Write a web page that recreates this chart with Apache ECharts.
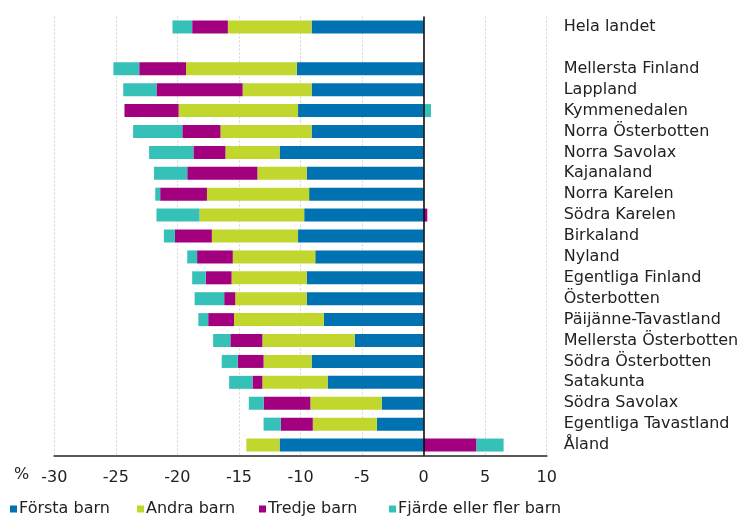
<!DOCTYPE html>
<html>
<head>
<meta charset="utf-8">
<script src="https://cdn.jsdelivr.net/npm/echarts@6/dist/echarts.min.js"></script>
<style>html,body{margin:0;padding:0;background:#fff}#c{width:751px;height:520px}</style>
</head>
<body>
<div id="c"></div>
<script>
var categories = ['Hela landet','', 'Mellersta Finland','Lappland','Kymmenedalen','Norra Österbotten','Norra Savolax','Kajanaland','Norra Karelen','Södra Karelen','Birkaland','Nyland','Egentliga Finland','Österbotten','Päijänne-Tavastland','Mellersta Österbotten','Södra Österbotten','Satakunta','Södra Savolax','Egentliga Tavastland','Åland'];
var forstaBarn = [-9.1, null, -10.3, -9.1, -10.2, -9.1, -11.7, -9.5, -9.3, -9.7, -10.2, -8.8, -9.5, -9.5, -8.1, -5.6, -9.1, -7.8, -3.4, -3.8, -11.7];
var andraBarn  = [-6.8, null, -9.0, -5.6, -9.7, -7.4, -4.4, -4.0, -8.3, -8.5, -7.0, -6.7, -6.1, -5.8, -7.3, -7.5, -3.9, -5.3, -5.8, -5.2, -2.7];
var tredjeBarn = [-2.9, null, -3.8, -7.0, -4.4, -3.1, -2.6, -5.7, -3.8, 0.3, -3.0, -2.9, -2.1, -0.9, -2.1, -2.6, -2.1, -0.8, -3.8, -2.6, 4.3];
var fjardeBarn = [-1.6, null, -2.1, -2.7, 0.6, -4.0, -3.6, -2.7, -0.4, -3.5, -0.9, -0.8, -1.1, -2.4, -0.8, -1.4, -1.3, -1.9, -1.2, -1.4, 2.2];
var seriesNames = ['Första barn','Andra barn','Tredje barn','Fjärde eller fler barn'];
var colors = ['#0072b1','#c1d72e','#a3007f','#36c1b8'];
var xTicks = {min: -30, max: 10, interval: 5};

var FONT = 'DejaVu Sans';
var chart = echarts.init(document.getElementById('c'), null, {renderer: 'canvas'});
var dataSets = [forstaBarn, andraBarn, tredjeBarn, fjardeBarn];
var legendLeft = [10, 137, 259, 389];

var series = dataSets.map(function (d, i) {
  var s = {
    name: seriesNames[i],
    type: 'bar',
    stack: 'total',
    barWidth: 13,
    data: d,
    itemStyle: {color: colors[i]},
    animation: false
  };
  if (i === 0) {
    s.markLine = {
      silent: true,
      symbol: 'none',
      label: {show: false},
      lineStyle: {color: '#000', width: 1.5, type: 'solid'},
      data: [{xAxis: 0}],
      animation: false
    };
  }
  return s;
});

var legends = seriesNames.map(function (n, i) {
  return {
    data: [n],
    left: legendLeft[i],
    top: 501,
    padding: 0,
    itemWidth: 7,
    itemHeight: 7,
    icon: 'rect',
    selectedMode: false,
    textStyle: {fontFamily: FONT, fontSize: 16, color: '#222', padding: [0, 0, 0, -3]}
  };
});

chart.setOption({
  backgroundColor: '#fff',
  color: colors,
  animation: false,
  grid: {left: 54.3, right: 204.3, top: 16.5, bottom: 64.5, containLabel: false},
  legend: legends,
  xAxis: {
    type: 'value',
    min: xTicks.min,
    max: xTicks.max,
    interval: xTicks.interval,
    axisLine: {show: true, lineStyle: {color: '#595959', width: 2}},
    axisTick: {show: false},
    axisLabel: {fontFamily: FONT, fontSize: 16, color: '#222', margin: 14},
    splitLine: {show: true, lineStyle: {color: '#d4d4d4', type: [2, 2], width: 1}}
  },
  yAxis: {
    type: 'category',
    data: categories,
    inverse: true,
    position: 'right',
    axisLine: {show: false},
    axisTick: {show: false},
    axisLabel: {fontFamily: FONT, fontSize: 16, color: '#222', margin: 17, align: 'left'},
    splitLine: {show: false}
  },
  graphic: [{
    type: 'text',
    left: 14,
    top: 467,
    style: {text: '%', fontFamily: FONT, fontSize: 16, fill: '#222'}
  }],
  series: series
});
</script>
</body>
</html>
